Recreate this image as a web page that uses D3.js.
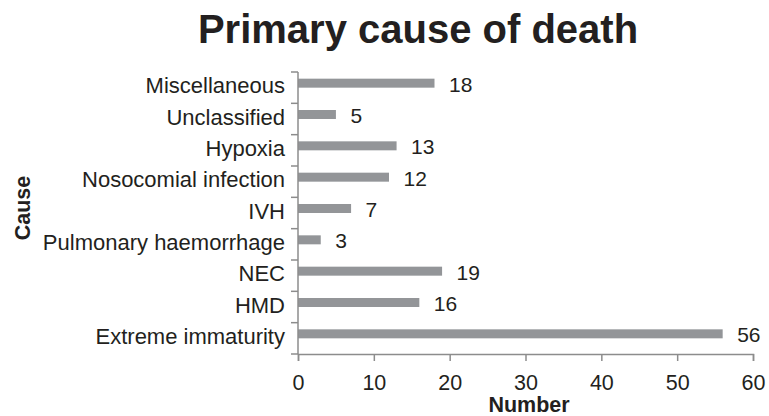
<!DOCTYPE html>
<html>
<head>
<meta charset="utf-8">
<script src="https://cdn.jsdelivr.net/npm/d3@7"></script>
<style>
  body { margin: 0; background: #fff; }
  text { font-family: "Liberation Sans", Arial, sans-serif; fill: #231f20; }
</style>
</head>
<body>
<div id="chart"></div>
<script>
// data, top to bottom as drawn
var causes = ["Miscellaneous", "Unclassified", "Hypoxia", "Nosocomial infection", "IVH",
  "Pulmonary haemorrhage", "NEC", "HMD", "Extreme immaturity"];
var counts = [18, 5, 13, 12, 7, 3, 19, 16, 56];
var xTicks = [0, 10, 20, 30, 40, 50, 60];

var width = 769, height = 416;
// plot edges (note: "top" is taken by window.top)
var plotLeft = 298, plotRight = 753, plotTop = 72, plotBottom = 354;

var svg = d3.select("#chart").append("svg")
  .attr("width", width)
  .attr("height", height);

var x = d3.scaleLinear().domain([0, 60]).range([plotLeft, plotRight]);
var y = d3.scaleBand().domain(causes).range([plotTop, plotBottom]);

var axisColor = "#8c8c8c";
var labelSize = "21px";

// title
svg.append("text")
  .attr("x", 418).attr("y", 43)
  .attr("text-anchor", "middle")
  .style("font-size", "40px")
  .style("font-weight", "bold")
  .text("Primary cause of death");

// bars sit a little above the band centre, like the original
var barH = 9;
var barShift = -4.5;
svg.selectAll(".bar")
  .data(counts)
  .enter().append("rect")
  .attr("class", "bar")
  .attr("x", x(0))
  .attr("y", function(d, i) { return y(causes[i]) + y.bandwidth() / 2 + barShift - barH / 2; })
  .attr("width", function(d) { return x(d) - x(0); })
  .attr("height", barH)
  .attr("fill", "#939598");

// value labels
svg.selectAll(".val")
  .data(counts)
  .enter().append("text")
  .attr("class", "val")
  .attr("x", function(d) { return x(d) + 14.5; })
  .attr("y", function(d, i) { return y(causes[i]) + y.bandwidth() / 2 + barShift + 1; })
  .attr("dy", "0.35em")
  .style("font-size", labelSize)
  .text(function(d) { return d; });

// y axis
var yAxis = svg.append("g")
  .attr("transform", "translate(" + plotLeft + ",0)");
yAxis.append("line")
  .attr("x1", 0).attr("x2", 0).attr("y1", plotTop).attr("y2", plotBottom)
  .attr("stroke", axisColor).attr("stroke-width", 1.5);
yAxis.selectAll(".ytick")
  .data(causes.concat(["end"]))
  .enter().append("line")
  .attr("x1", -7).attr("x2", 0)
  .attr("y1", function(d, i) { return plotTop + i * y.step(); })
  .attr("y2", function(d, i) { return plotTop + i * y.step(); })
  .attr("stroke", axisColor).attr("stroke-width", 1.5);
yAxis.selectAll(".ylab")
  .data(causes)
  .enter().append("text")
  .attr("x", -13)
  .attr("y", function(d) { return y(d) + y.bandwidth() / 2 + barShift + 2.5; })
  .attr("dy", "0.35em")
  .attr("text-anchor", "end")
  .style("font-size", "22px")
  .text(function(d) { return d; });

// x axis
var xAxis = svg.append("g")
  .attr("transform", "translate(0," + plotBottom + ")")
  .call(d3.axisBottom(x).tickValues(xTicks).tickSize(7).tickPadding(14));
xAxis.select(".domain").attr("stroke", axisColor).attr("stroke-width", 1.5);
xAxis.selectAll(".tick line").attr("stroke", axisColor).attr("stroke-width", 1.5);
xAxis.selectAll(".tick text")
  .style("font-size", "21.5px")
  .style("font-family", "Liberation Sans, Arial, sans-serif")
  .attr("fill", "#231f20");

// axis titles
svg.append("text")
  .attr("x", 529).attr("y", 411.5)
  .attr("text-anchor", "middle")
  .style("font-size", "21.5px")
  .style("font-weight", "bold")
  .text("Number");

svg.append("text")
  .attr("transform", "translate(30,208)rotate(-90)")
  .attr("text-anchor", "middle")
  .style("font-size", "21.5px")
  .style("font-weight", "bold")
  .text("Cause");
</script>
</body>
</html>
